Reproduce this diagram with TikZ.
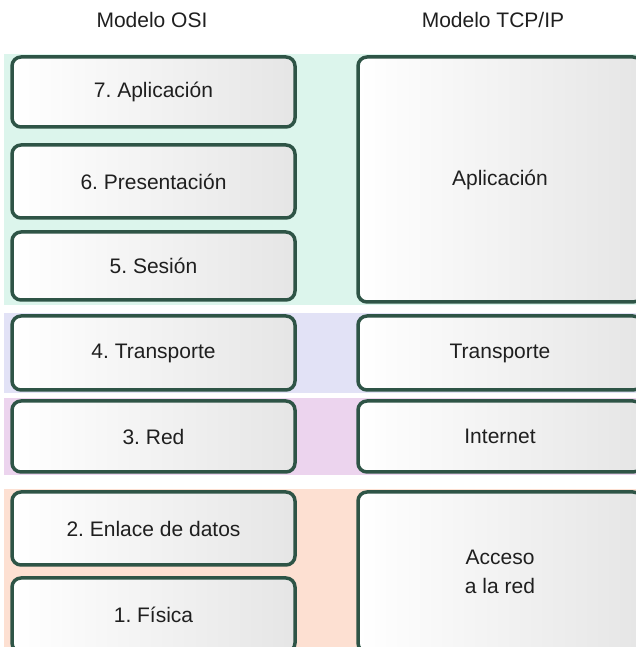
\documentclass[tikz,border=0pt]{standalone}
\usepackage{fontspec}
\setmainfont{Liberation Sans}
\usetikzlibrary{
    positioning,
    fit,
    backgrounds
}
\definecolor{layerline}{HTML}{2E5446}
\definecolor{bandgreen}{HTML}{DCF5EC}
\definecolor{bandblue}{HTML}{E2E2F6}
\definecolor{bandpink}{HTML}{ECD4EE}
\definecolor{bandpeach}{HTML}{FDE0D2}
\frenchspacing

\begin{document}
\begin{tikzpicture}[
    x=1pt, y=1pt,
    every node/.style={font=\fontsize{21}{29}\selectfont, text=black!88},
    layer/.style={rectangle, draw=layerline, line width=3.5pt, rounded corners=9pt,
                  left color=white, right color=black!10, align=center, minimum width=283pt},
    tcpip/.style={layer, minimum width=284pt},
    band/.style={rectangle, draw=none, inner xsep=6pt, inner ysep=1pt}
]
\useasboundingbox (0,0) rectangle (635,647);

% ================= HEADERS =================
\node (hosi) at (152,627) {Modelo OSI};
\node (htcp) at (493,627) {Modelo TCP/IP};

% ================= OSI =================
\node[layer, minimum height=70pt] (osi7) at (153.5,555) {7. Aplicación};
\node[layer, minimum height=73pt] (osi6) at (153.5,465.5) {6. Presentación};
\node[layer, minimum height=68pt] (osi5) at (153.5,381) {5. Sesión};
\node[layer, minimum height=74pt] (osi4) at (153.5,294) {4. Transporte};
\node[layer, minimum height=71pt] (osi3) at (153.5,210.5) {3. Red};
\node[layer, minimum height=73pt] (osi2) at (153.5,118.5) {2. Enlace de datos};
\node[layer, minimum height=74pt] (osi1) at (153.5,32) {1. Física};

% ================= TCP/IP =================
\node[tcpip, minimum height=245pt] (app) at (500,467.5) {Aplicación};
\node[tcpip, minimum height=74pt] (trans) at (500,294) {Transporte};
\node[tcpip, minimum height=71pt] (inet) at (500,210.5) {Internet};
\node[tcpip, minimum height=160pt] (acc) at (500,75) {Acceso\\a la red};

% ================= BANDS =================
\begin{scope}[on background layer]

\node[band, fill=bandgreen, fit=(osi7)(osi5)(app)] (grpapp) {};
\node[band, fill=bandblue, fit=(osi4)(trans)] (grptrans) {};
\node[band, fill=bandpink, fit=(osi3)(inet)] (grpinet) {};
\node[band, fill=bandpeach, fit=(osi2)(osi1)(acc)] (grpacc) {};

\end{scope}

\end{tikzpicture}
\end{document}
